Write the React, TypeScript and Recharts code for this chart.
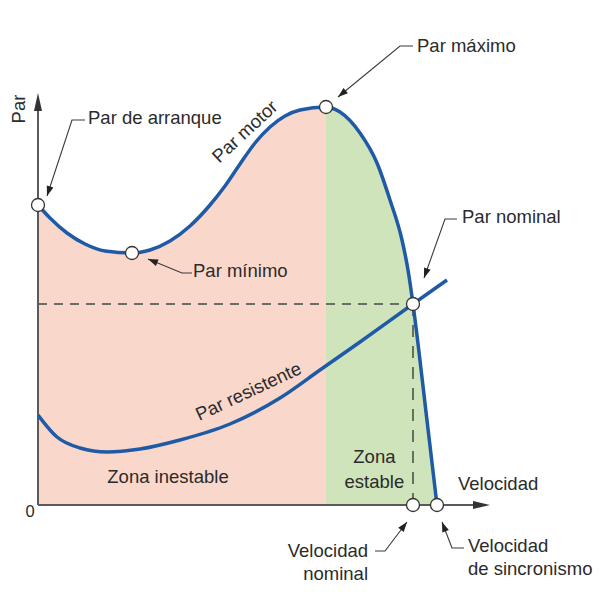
import React from "react";
import {
  ComposedChart,
  Line,
  Area,
  XAxis,
  YAxis,
  ReferenceLine,
  ReferenceDot,
} from "recharts";

// ---- data (speed and torque in arbitrary units) ----
const motorSpeed = [0, 3, 7.25, 11.75, 16.75, 23.5, 28, 33, 38, 43, 46.75, 50.5, 54.25, 58, 61.75, 65.5, 72, 75.5, 80.5, 84.75, 88, 91, 92.5, 93.75, 95.25, 97, 99.75];
const motorTorque = [75, 71.75, 68, 65.25, 63.5, 63, 63.75, 66, 69.75, 75, 79.75, 85.25, 90.5, 94.5, 97.25, 98.75, 99.5, 98.25, 93, 85.5, 76.25, 66.25, 58.75, 50.25, 38.25, 23.25, 0];

const loadSpeed = [0, 4.75, 10.5, 17.25, 25.5, 35.5, 48, 60.5, 70.5, 80.5, 93.75, 102.25];
const loadTorque = [22.5, 17, 14.25, 13.25, 14, 16.25, 20.25, 26.75, 33.75, 40.75, 50.25, 56.25];

const startTorque = 75;
const minTorqueSpeed = 23.5;
const minTorque = 63;
const maxTorqueSpeed = 72;
const maxTorque = 99.5;
const nominalSpeed = 93.75;
const nominalTorque = 50.25;
const syncSpeed = 99.75;
const speedAxisMax = 113;
const torqueAxisMax = 103;

const motorData = motorSpeed.map((s, i) => ({ s, motor: motorTorque[i] }));
const unstableData = motorData.filter((d) => d.s <= maxTorqueSpeed);
const loadData = loadSpeed.map((s, i) => ({ s, load: loadTorque[i] }));

// ---- styles ----
const FONT = "'Liberation Sans', Arial, Helvetica, sans-serif";
const TEXT = "#2b2b2b";
const BLUE = "#1f5aa6";
const AXIS = "#5a5a5a";
const PINK = "#f9d8cb";
const GREEN = "#cfe4bb";
const FS = 18.5;

function arrowHead(tx: number, ty: number, fx: number, fy: number, len: number, hw: number, fill: string) {
  const dx = tx - fx;
  const dy = ty - fy;
  const d = Math.hypot(dx, dy) || 1;
  const ux = dx / d;
  const uy = dy / d;
  const bx = tx - ux * len;
  const by = ty - uy * len;
  const pts = `${tx},${ty} ${bx - uy * hw},${by + ux * hw} ${bx + uy * hw},${by - ux * hw}`;
  return <polygon points={pts} fill={fill} />;
}

type Callout = {
  x: number;
  y: number;
  path: [number, number][];
  lines: string[];
  tx: number;
  ty: number;
  anchor: "start" | "end" | "middle";
};

const callouts: Callout[] = [
  { x: 0, y: startTorque, path: [[47, -85], [34, -85], [9, -9]], lines: ["Par de arranque"], tx: 50, ty: -81, anchor: "start" },
  { x: minTorqueSpeed, y: minTorque, path: [[60, 20], [50, 20], [16, 6]], lines: ["Par mínimo"], tx: 61, ty: 24, anchor: "start" },
  { x: maxTorqueSpeed, y: maxTorque, path: [[87, -61], [74, -61], [12, -10]], lines: ["Par máximo"], tx: 91, ty: -55, anchor: "start" },
  { x: nominalSpeed, y: nominalTorque, path: [[44, -85], [32, -85], [11, -26]], lines: ["Par nominal"], tx: 49, ty: -81, anchor: "start" },
  { x: nominalSpeed, y: 0, path: [[-38, 46], [-28, 46], [-6, 17]], lines: ["Velocidad", "nominal"], tx: -45, ty: 52, anchor: "end" },
  { x: syncSpeed, y: 0, path: [[27, 43], [15, 43], [5, 17]], lines: ["Velocidad", "de sincronismo"], tx: 31, ty: 47, anchor: "start" },
];

type FreeLabel = { x: number; y: number; lines: string[]; angle: number; lh: number };
const freeLabels: FreeLabel[] = [
  { x: 32.5, y: 5.5, lines: ["Zona inestable"], angle: 0, lh: 0 },
  { x: 84.1, y: 10.5, lines: ["Zona", "estable"], angle: 0, lh: 25 },
  { x: 52.75, y: 92.25, lines: ["Par motor"], angle: -43, lh: 0 },
  { x: 53.25, y: 27, lines: ["Par resistente"], angle: -25, lh: 0 },
];

const makeCallout = (c: Callout) => (props: any) => {
  const { cx, cy } = props;
  if (cx == null || cy == null) return <g />;
  const pts = c.path.map(([dx, dy]) => [cx + dx, cy + dy]);
  const d = pts.map((p, i) => `${i ? "L" : "M"}${p[0]},${p[1]}`).join(" ");
  const tip = pts[pts.length - 1];
  const prev = pts[pts.length - 2];
  return (
    <g>
      <path d={d} fill="none" stroke="#3a3a3a" strokeWidth={1.1} />
      {arrowHead(tip[0], tip[1], prev[0], prev[1], 10, 3.5, "#222")}
      <text fontFamily={FONT} fontSize={FS} fill={TEXT} textAnchor={c.anchor}>
        {c.lines.map((l, i) => (
          <tspan key={i} x={cx + c.tx} y={cy + c.ty + i * 23}>
            {l}
          </tspan>
        ))}
      </text>
    </g>
  );
};

const makeFreeLabel = (f: FreeLabel) => (props: any) => {
  const { cx, cy } = props;
  if (cx == null || cy == null) return <g />;
  return (
    <text
      fontFamily={FONT}
      fontSize={FS}
      fill={TEXT}
      textAnchor="middle"
      transform={f.angle ? `rotate(${f.angle}, ${cx}, ${cy})` : undefined}
    >
      {f.lines.map((l, i) => (
        <tspan key={i} x={cx} y={cy + i * f.lh}>
          {l}
        </tspan>
      ))}
    </text>
  );
};

const xArrow = (props: any) => {
  const { cx, cy } = props;
  if (cx == null || cy == null) return <g />;
  return (
    <g>
      {arrowHead(cx, cy, cx - 20, cy, 17, 4, "#333")}
      <text x={cx - 32} y={cy - 15} fontFamily={FONT} fontSize={FS} fill={TEXT}>
        Velocidad
      </text>
    </g>
  );
};

const yArrow = (props: any) => {
  const { cx, cy } = props;
  if (cx == null || cy == null) return <g />;
  const tx = cx - 13;
  const ty = cy + 16;
  return (
    <g>
      {arrowHead(cx, cy, cx, cy + 20, 18, 4, "#333")}
      <text
        x={tx}
        y={ty}
        fontFamily={FONT}
        fontSize={FS}
        fill={TEXT}
        textAnchor="middle"
        transform={`rotate(-90, ${tx}, ${ty})`}
      >
        Par
      </text>
    </g>
  );
};

const zeroLabel = (props: any) => {
  const { cx, cy } = props;
  if (cx == null || cy == null) return <g />;
  return (
    <text x={cx - 8} y={cy + 12} fontFamily={FONT} fontSize={16.5} fill={TEXT} textAnchor="middle">
      0
    </text>
  );
};

const markerPoints = [
  { x: 0, y: startTorque },
  { x: minTorqueSpeed, y: minTorque },
  { x: maxTorqueSpeed, y: maxTorque },
  { x: nominalSpeed, y: nominalTorque },
  { x: nominalSpeed, y: 0 },
  { x: syncSpeed, y: 0 },
];

export default function App() {
  return (
    <div style={{ width: 600, height: 594 }}>
      <ComposedChart
        width={600}
        height={594}
        margin={{ top: 85, left: 30, right: 118, bottom: 97 }}
      >
        <XAxis type="number" dataKey="s" domain={[0, speedAxisMax]} hide allowDataOverflow />
        <YAxis type="number" domain={[0, torqueAxisMax]} hide allowDataOverflow />

        <Area
          data={motorData}
          dataKey="motor"
          type="monotone"
          fill={GREEN}
          fillOpacity={1}
          stroke="none"
          isAnimationActive={false}
        />
        <Area
          data={unstableData}
          dataKey="motor"
          type="monotone"
          fill={PINK}
          fillOpacity={1}
          stroke="none"
          isAnimationActive={false}
        />

        <ReferenceLine
          segment={[{ x: 0, y: nominalTorque }, { x: nominalSpeed, y: nominalTorque }]}
          stroke="#6b6f66"
          strokeWidth={1.8}
          strokeDasharray="9 7"
          ifOverflow="visible"
        />
        <ReferenceLine
          segment={[{ x: nominalSpeed, y: nominalTorque }, { x: nominalSpeed, y: 0 }]}
          stroke="#222"
          strokeWidth={1.2}
          strokeDasharray="12 9"
          ifOverflow="visible"
        />

        <ReferenceLine
          segment={[{ x: 0, y: 0 }, { x: speedAxisMax - 3, y: 0 }]}
          stroke={AXIS}
          strokeWidth={2}
          ifOverflow="visible"
        />
        <ReferenceLine
          segment={[{ x: 0, y: 0 }, { x: 0, y: torqueAxisMax - 3 }]}
          stroke={AXIS}
          strokeWidth={2}
          ifOverflow="visible"
        />

        <Line
          data={loadData}
          dataKey="load"
          type="monotone"
          stroke={BLUE}
          strokeWidth={3.5}
          dot={false}
          isAnimationActive={false}
        />
        <Line
          data={motorData}
          dataKey="motor"
          type="monotone"
          stroke={BLUE}
          strokeWidth={3.5}
          dot={false}
          isAnimationActive={false}
        />

        <ReferenceDot x={speedAxisMax} y={0} r={1} shape={xArrow} ifOverflow="visible" />
        <ReferenceDot x={0} y={torqueAxisMax} r={1} shape={yArrow} ifOverflow="visible" />
        <ReferenceDot x={0} y={0} r={1} shape={zeroLabel} ifOverflow="visible" />

        {freeLabels.map((f, i) => (
          <ReferenceDot key={`f${i}`} x={f.x} y={f.y} r={1} shape={makeFreeLabel(f)} ifOverflow="visible" />
        ))}
        {callouts.map((c, i) => (
          <ReferenceDot key={`c${i}`} x={c.x} y={c.y} r={1} shape={makeCallout(c)} ifOverflow="visible" />
        ))}
        {markerPoints.map((p, i) => (
          <ReferenceDot
            key={`m${i}`}
            x={p.x}
            y={p.y}
            r={6.5}
            fill="#fff"
            stroke="#333"
            strokeWidth={1.3}
            ifOverflow="visible"
          />
        ))}
      </ComposedChart>
    </div>
  );
}
